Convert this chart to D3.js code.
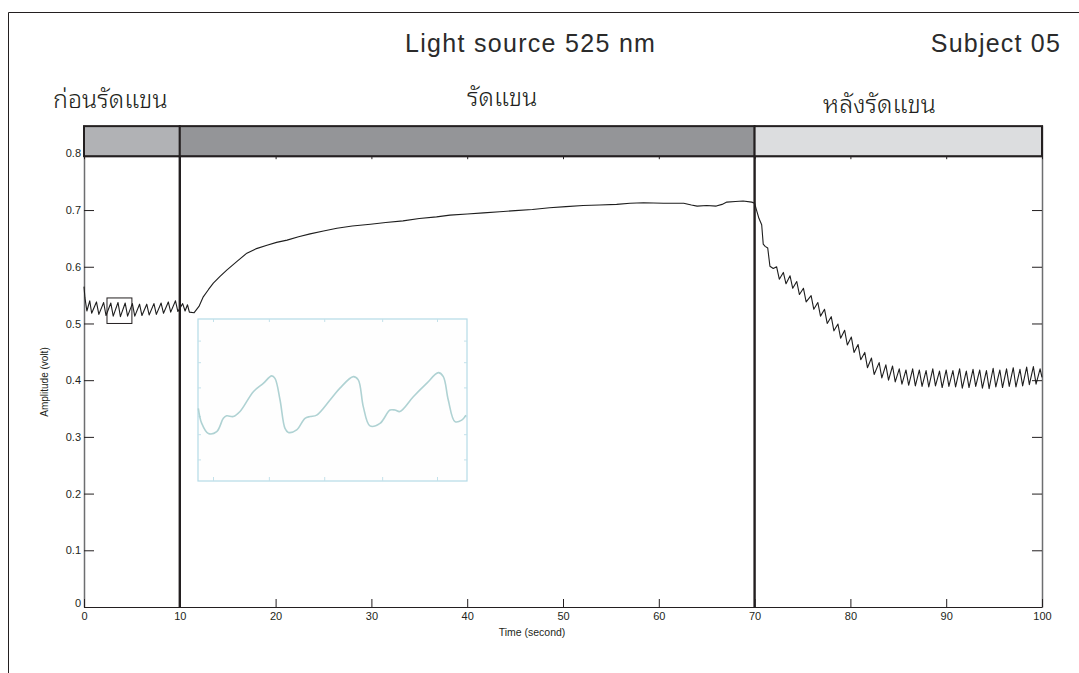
<!DOCTYPE html>
<html>
<head>
<meta charset="utf-8">
<script src="https://cdn.jsdelivr.net/npm/d3@7"></script>
<style>
  body { margin: 0; background: #fff; }
  svg { display: block; }
  .lat { font-family: "Liberation Sans", Arial, Helvetica, sans-serif; }
  .thai { font-family: "Noto Sans Thai Looped", Loma, Garuda, Norasi, "Noto Sans Thai", "DejaVu Sans", sans-serif; font-weight: 300; }
</style>
</head>
<body>
<svg id="canvas" width="1079" height="673"></svg>
<script>
// phases of the measurement
let phaseNames = ["ก่อนรัดแขน", "รัดแขน", "หลังรัดแขน"];
let phaseStart = [0, 10, 70];
let phaseEnd = [10, 70, 100];
let phaseFill = ["#b1b2b5", "#949598", "#dcdddf"];

let xTicks = [0, 10, 20, 30, 40, 50, 60, 70, 80, 90, 100];
let yTicks = [0, 0.1, 0.2, 0.3, 0.4, 0.5, 0.6, 0.7, 0.8];

// before cuff (0 - 11 s)
let preTimes = [0.0, 0.1, 0.3, 0.6, 0.8, 1.3, 1.55, 2.05, 2.3, 2.8, 3.05, 3.55, 3.8, 4.3, 4.55,
  5.05, 5.3, 5.8, 6.05, 6.55, 6.8, 7.3, 7.55, 8.05, 8.3, 8.8, 9.05, 9.55, 9.8, 10.3, 10.55, 10.8, 11.0];
let preValues = [0.565, 0.545, 0.522, 0.540, 0.518, 0.538, 0.516, 0.537, 0.514, 0.536, 0.513, 0.537, 0.512, 0.536, 0.513,
  0.535, 0.513, 0.534, 0.514, 0.534, 0.515, 0.535, 0.516, 0.536, 0.518, 0.538, 0.520, 0.540, 0.521, 0.535, 0.522, 0.533, 0.520];

// cuff on (11.5 - 70 s)
let cuffTimes = [11.5, 12.0, 12.45, 13.0, 13.5, 14.2, 14.9, 16.0, 17.0, 18.0, 19.1, 20.1, 21.2, 22.4, 23.6, 25.0,
  26.4, 28.0, 29.9, 31.5, 33.3, 35.0, 36.8, 38.2, 40.0, 41.7, 43.4, 45.0, 46.8, 48.6, 50.3, 52.1, 53.8, 55.6,
  57.0, 58.4, 60.5, 62.6, 63.4, 64.0, 65.0, 66.0, 66.6, 67.1, 68.0, 68.8, 69.7, 70.0];
let cuffValues = [0.519, 0.530, 0.547, 0.560, 0.571, 0.583, 0.594, 0.610, 0.624, 0.632, 0.638, 0.643, 0.647, 0.653, 0.658, 0.663,
  0.668, 0.672, 0.675, 0.678, 0.681, 0.685, 0.688, 0.691, 0.693, 0.695, 0.697, 0.699, 0.701, 0.704, 0.706, 0.708, 0.709, 0.710,
  0.712, 0.713, 0.712, 0.712, 0.709, 0.707, 0.708, 0.707, 0.710, 0.714, 0.715, 0.716, 0.714, 0.712];

// after cuff release: first fall, then pulse peaks and troughs
let dropTimes = [70.2, 70.46, 70.74, 70.9, 71.1, 71.37, 71.6, 71.95];
let dropValues = [0.700, 0.685, 0.674, 0.640, 0.636, 0.633, 0.601, 0.597];

let peakTimes = [72.3, 73.0, 73.7, 74.4, 75.1, 75.9, 76.6, 77.3, 78.0, 78.7, 79.4, 80.1, 80.8, 81.5, 82.2, 83.0,
  83.7, 84.4, 85.1, 85.8, 86.5, 87.2, 87.9, 88.6, 89.3, 90.0, 90.7, 91.4, 92.1, 92.8, 93.5, 94.2, 94.9, 95.6,
  96.3, 97.0, 97.7, 98.4, 99.1, 99.8];
let peakValues = [0.600, 0.590, 0.584, 0.574, 0.562, 0.549, 0.537, 0.525, 0.512, 0.499, 0.488, 0.476, 0.463, 0.449, 0.439, 0.431,
  0.427, 0.425, 0.420, 0.418, 0.420, 0.418, 0.417, 0.420, 0.416, 0.418, 0.417, 0.420, 0.416, 0.419, 0.418, 0.417, 0.421, 0.418,
  0.420, 0.422, 0.419, 0.423, 0.424, 0.420];
let troughTimes = [72.58, 73.28, 73.98, 74.68, 75.38, 76.18, 76.88, 77.58, 78.28, 78.98, 79.68, 80.38, 81.08, 81.78, 82.48, 83.28,
  83.98, 84.68, 85.38, 86.08, 86.78, 87.48, 88.18, 88.88, 89.58, 90.28, 90.98, 91.68, 92.38, 93.08, 93.78, 94.48, 95.18, 95.88,
  96.58, 97.28, 97.98, 98.68, 99.38, 100.0];
let troughValues = [0.578, 0.570, 0.562, 0.551, 0.538, 0.525, 0.513, 0.500, 0.487, 0.474, 0.462, 0.449, 0.436, 0.422, 0.410, 0.404,
  0.400, 0.397, 0.393, 0.391, 0.390, 0.389, 0.388, 0.390, 0.387, 0.389, 0.388, 0.386, 0.387, 0.389, 0.386, 0.385, 0.388, 0.387,
  0.389, 0.388, 0.390, 0.392, 0.393, 0.405];

// magnified pulse shape (inset), taken from the small box 2.4 - 5.0 s
let zoomBox = [2.4, 5.0, 0.500, 0.545];
let insetTimes = [2.403, 2.436, 2.500, 2.581, 2.645, 2.677, 2.741, 2.806, 2.935, 3.031, 3.112, 3.144, 3.193, 3.241, 3.273,
  3.354, 3.434, 3.483, 3.547, 3.676, 3.772, 3.901, 3.949, 3.998, 4.062, 4.159, 4.256, 4.304, 4.352, 4.481, 4.610,
  4.723, 4.771, 4.819, 4.884, 4.949, 4.990];
let insetValues = [0.5202, 0.5160, 0.5132, 0.5137, 0.5174, 0.5181, 0.5179, 0.5193, 0.5248, 0.5271, 0.5292, 0.5285, 0.5225, 0.5146, 0.5135,
  0.5142, 0.5174, 0.5179, 0.5183, 0.5225, 0.5258, 0.5290, 0.5281, 0.5206, 0.5153, 0.5160, 0.5197, 0.5197, 0.5193, 0.5234, 0.5271,
  0.5301, 0.5290, 0.5225, 0.5165, 0.5169, 0.5183];
let insetXTicks = [2.545, 3.085, 3.62, 4.18, 4.71];
let insetYTicks = [0.506, 0.513, 0.518, 0.526, 0.533, 0.539];

let svg = d3.select('#canvas');

let x = d3.scaleLinear().domain([0, 100]).range([84, 1042]);
let y = d3.scaleLinear().domain([0, 0.85]).range([607, 125]);
let bandBottom = 0.795, bandTop = 0.848;

// outer frame
svg.append('path')
    .attr('d', 'M8.5,673 L8.5,12.5 L1079,12.5')
    .attr('fill', 'none')
    .attr('stroke', '#231f20')
    .attr('stroke-width', 1);

// axes
let styleAxis = (g, colour, width) => {
    g.select('.domain').attr('stroke', colour).attr('stroke-width', width);
    g.selectAll('.tick line').attr('stroke', '#231f20').attr('stroke-width', 1);
    g.selectAll('.tick text').attr('fill', '#231f20').attr('class', 'lat').style('font-size', '11px');
};

let leftAxis = svg.append('g')
    .attr('transform', 'translate(' + x(0) + ',0)')
    .call(d3.axisLeft(y).tickValues(yTicks).tickSize(-10).tickSizeOuter(0).tickPadding(3)
        .tickFormat((d) => d === 0 ? '0' : d.toFixed(1)));
styleAxis(leftAxis, '#6d6e70', 1.5);
leftAxis.selectAll('.tick').filter((d) => d === 0).select('text').attr('dy', '-0.05em');

let rightAxis = svg.append('g')
    .attr('transform', 'translate(' + x(100) + ',0)')
    .call(d3.axisRight(y).tickValues(yTicks).tickSize(-10).tickSizeOuter(0).tickFormat(''));
styleAxis(rightAxis, '#6d6e70', 1.5);

let topAxis = svg.append('g')
    .attr('transform', 'translate(0,' + y(bandBottom) + ')')
    .call(d3.axisTop(x).tickValues(xTicks).tickSize(-3).tickSizeOuter(0).tickFormat(''));
styleAxis(topAxis, '#231f20', 1);

let bottomAxis = svg.append('g')
    .attr('transform', 'translate(0,' + y(0) + ')')
    .call(d3.axisBottom(x).tickValues(xTicks).tickSize(-8).tickSizeOuter(0).tickPadding(5));
styleAxis(bottomAxis, '#231f20', 1.2);

// axis titles
svg.append('text')
    .attr('class', 'lat')
    .attr('x', 532).attr('y', 636)
    .attr('text-anchor', 'middle')
    .style('font-size', '10.5px')
    .attr('fill', '#231f20')
    .text('Time (second)');

svg.append('text')
    .attr('class', 'lat')
    .attr('transform', 'translate(48,382) rotate(-90)')
    .attr('text-anchor', 'middle')
    .style('font-size', '10px')
    .attr('fill', '#231f20')
    .text('Amplitude (volt)');

// signal
let points = [];
preTimes.forEach((t, i) => points.push([t, preValues[i]]));
cuffTimes.forEach((t, i) => points.push([t, cuffValues[i]]));
dropTimes.forEach((t, i) => points.push([t, dropValues[i]]));
let pulses = [];
peakTimes.forEach((t, i) => pulses.push([t, peakValues[i]]));
troughTimes.forEach((t, i) => pulses.push([t, troughValues[i]]));
pulses.sort((a, b) => a[0] - b[0]);
points = points.concat(pulses);

let line = d3.line()
    .x((p) => x(p[0]))
    .y((p) => y(p[1]));

svg.append('path')
    .datum(points)
    .attr('d', line)
    .attr('fill', 'none')
    .attr('stroke', '#1e1e1e')
    .attr('stroke-width', 1.1)
    .attr('stroke-linejoin', 'round');

// small zoom box
svg.append('rect')
    .attr('x', x(zoomBox[0]))
    .attr('y', y(zoomBox[3]))
    .attr('width', x(zoomBox[1]) - x(zoomBox[0]))
    .attr('height', y(zoomBox[2]) - y(zoomBox[3]))
    .attr('fill', 'none')
    .attr('stroke', '#231f20')
    .attr('stroke-width', 1);

// phase dividers
svg.selectAll('line.divider')
    .data([phaseStart[1], phaseStart[2]])
    .enter()
    .append('line')
    .attr('class', 'divider')
    .attr('x1', (d) => x(d)).attr('x2', (d) => x(d))
    .attr('y1', y(bandBottom)).attr('y2', y(0))
    .attr('stroke', '#231f20')
    .attr('stroke-width', 2.4);

// phase band
svg.selectAll('rect.phase')
    .data(phaseStart)
    .enter()
    .append('rect')
    .attr('class', 'phase')
    .attr('x', (d) => x(d))
    .attr('y', y(bandTop))
    .attr('width', (d, i) => x(phaseEnd[i]) - x(d))
    .attr('height', y(bandBottom) - y(bandTop))
    .attr('fill', (d, i) => phaseFill[i])
    .attr('stroke', '#231f20')
    .attr('stroke-width', 2);

// phase names
let phaseLabelX = [53, 467, 823];
let phaseLabelY = [108, 106, 113];
svg.selectAll('text.phase')
    .data(phaseNames)
    .enter()
    .append('text')
    .attr('class', 'thai')
    .attr('x', (d, i) => phaseLabelX[i])
    .attr('y', (d, i) => phaseLabelY[i])
    .style('font-size', '25px')
    .attr('fill', '#231f20')
    .text((d) => d);

// titles
svg.append('text')
    .attr('class', 'lat')
    .attr('x', 405).attr('y', 52)
    .style('font-size', '25px')
    .style('letter-spacing', '1.3px')
    .attr('fill', '#2b2b2b')
    .text('Light source 525 nm');

svg.append('text')
    .attr('class', 'lat')
    .attr('x', 1061).attr('y', 52)
    .attr('text-anchor', 'end')
    .style('font-size', '25px')
    .style('letter-spacing', '1.2px')
    .attr('fill', '#2b2b2b')
    .text('Subject 05');

// inset with magnified pulses
let ix = d3.scaleLinear().domain([zoomBox[0], zoomBox[1]]).range([198, 467]);
let iy = d3.scaleLinear().domain([zoomBox[2], zoomBox[3]]).range([481, 319]);
let inset = svg.append('g');

inset.append('rect')
    .attr('x', ix(zoomBox[0])).attr('y', iy(zoomBox[3]))
    .attr('width', ix(zoomBox[1]) - ix(zoomBox[0]))
    .attr('height', iy(zoomBox[2]) - iy(zoomBox[3]))
    .attr('fill', '#fefefe')
    .attr('stroke', '#b4dbe7')
    .attr('stroke-width', 1.2);

let insetAxisStyle = (g) => {
    g.select('.domain').remove();
    g.selectAll('.tick line').attr('stroke', '#c3e1ea').attr('stroke-width', 1);
};
inset.append('g').attr('transform', 'translate(' + ix(zoomBox[0]) + ',0)')
    .call(d3.axisLeft(iy).tickValues(insetYTicks).tickSize(-3).tickFormat('')).call(insetAxisStyle);
inset.append('g').attr('transform', 'translate(' + ix(zoomBox[1]) + ',0)')
    .call(d3.axisRight(iy).tickValues(insetYTicks).tickSize(-3).tickFormat('')).call(insetAxisStyle);
inset.append('g').attr('transform', 'translate(0,' + iy(zoomBox[2]) + ')')
    .call(d3.axisBottom(ix).tickValues(insetXTicks).tickSize(-4).tickFormat('')).call(insetAxisStyle);
inset.append('g').attr('transform', 'translate(0,' + iy(zoomBox[3]) + ')')
    .call(d3.axisTop(ix).tickValues(insetXTicks).tickSize(-3).tickFormat('')).call(insetAxisStyle);

let insetLine = d3.line()
    .x((d, i) => ix(insetTimes[i]))
    .y((d) => iy(d))
    .curve(d3.curveCatmullRom);

inset.append('path')
    .datum(insetValues)
    .attr('d', insetLine)
    .attr('fill', 'none')
    .attr('stroke', '#afd2d3')
    .attr('stroke-width', 1.6);
</script>
</body>
</html>
